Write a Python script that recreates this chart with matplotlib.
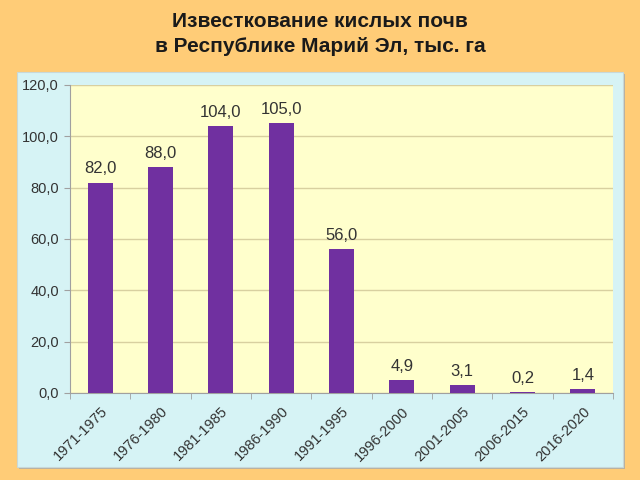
import matplotlib
matplotlib.use("Agg")
import matplotlib.pyplot as plt
from matplotlib.patches import Rectangle
import numpy as np

categories = ["1971-1975", "1976-1980", "1981-1985", "1986-1990", "1991-1995",
              "1996-2000", "2001-2005", "2006-2015", "2016-2020"]
values = [82.0, 88.0, 104.0, 105.0, 56.0, 4.9, 3.1, 0.2, 1.4]
yticks = [0, 20, 40, 60, 80, 100, 120]
title = "Известкование кислых почв\nв Республике Марий Эл, тыс. га"

plt.rcParams['font.family'] = ['Liberation Sans', 'DejaVu Sans']

fig = plt.figure(figsize=(6.4, 4.8), dpi=100)
fig.patch.set_facecolor('#FFCC77')

# shadow and panel
fig.patches.append(Rectangle((19/640, 1-469/480), 606/640, 395/480, transform=fig.transFigure,
                             facecolor='#B8B0A0', edgecolor='none', zorder=-2))
fig.patches.append(Rectangle((17/640, 1-467/480), 606/640, 395/480, transform=fig.transFigure,
                             facecolor='#D6F3F5', edgecolor='#C8D8D8', linewidth=0.8, zorder=-1))

fig.text(0.5, 1-34/480, title, ha='center', va='center', fontsize=15, fontweight='bold',
         color='#1a1a1a', linespacing=1.35)

ax = fig.add_axes([70/640, 1-393/480, 543/640, 308/480])
ax.set_zorder(2)
ax.set_facecolor('#FFFFCC')
x = np.arange(len(categories))
bars = ax.bar(x, values, width=0.41, color='#7030A0', zorder=3)
for xi, v in zip(x, values):
    ax.text(xi, v + 2.5, f"{v:.1f}".replace('.', ','), ha='center', va='bottom',
            fontsize=12, color='#333333', zorder=4)

ax.set_xlim(-0.5, len(categories) - 0.5)
ax.set_ylim(0, 120)
ax.set_yticks(yticks)
ax.set_yticklabels([f"{t:.1f}".replace('.', ',') for t in yticks], fontsize=10.5, color='#333333')
ax.yaxis.grid(True, color='#D8D0A0', linewidth=1, zorder=0)
ax.set_axisbelow(True)

ax.set_xticks(x)
ax.set_xticklabels(categories, rotation=45, ha='right', rotation_mode='anchor', fontsize=10.5, color='#333333')
ax.tick_params(axis='x', length=0, pad=8)
ax.set_xticks(np.arange(-0.5, len(categories), 1), minor=True)
ax.tick_params(axis='x', which='minor', length=4, color='#A0A0A0')
ax.tick_params(axis='y', length=4, color='#A0A0A0', pad=4)

for s in ['top', 'right']:
    ax.spines[s].set_visible(False)
ax.spines['left'].set_color('#A0A0A0')
ax.spines['bottom'].set_color('#A0A0A0')

fig.savefig('out.png', dpi=100, facecolor=fig.get_facecolor())
